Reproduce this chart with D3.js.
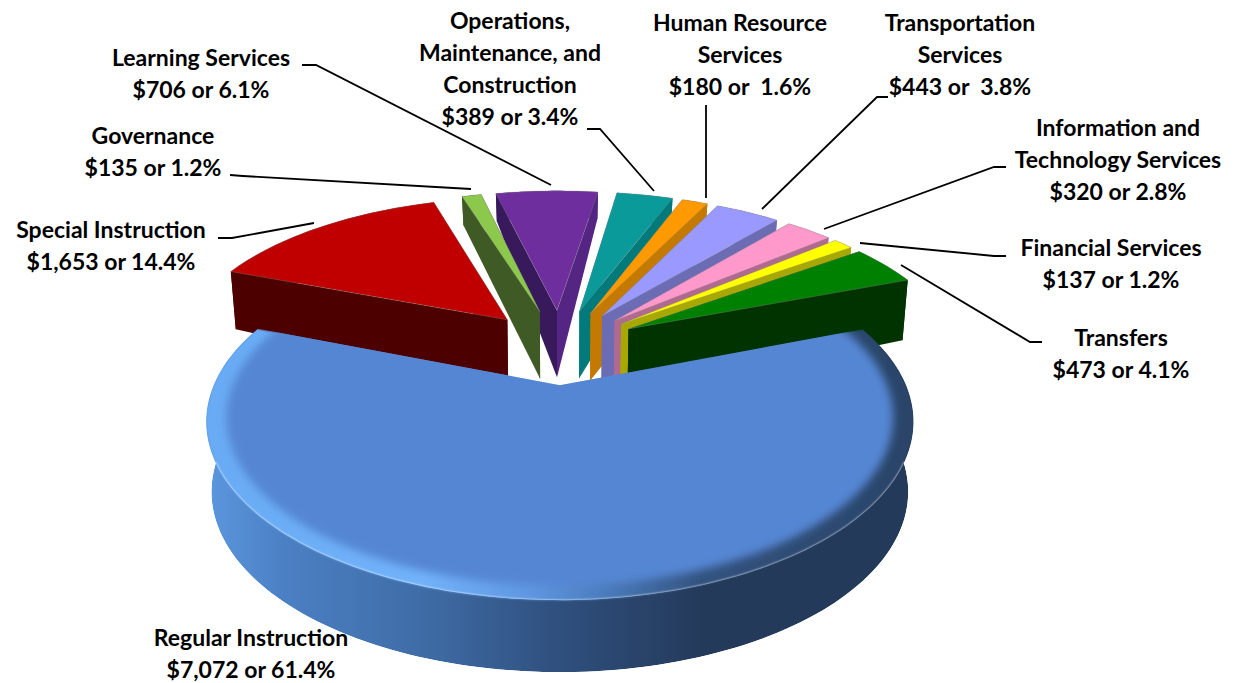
<!DOCTYPE html>
<html>
<head>
<meta charset="utf-8">
<script src="https://cdnjs.cloudflare.com/ajax/libs/d3/7.8.5/d3.min.js"></script>
<style>
html,body{margin:0;padding:0;background:#fff;overflow:hidden}
svg{display:block}
text{font-family:Lato,sans-serif;font-weight:700;font-size:23px;fill:#000;white-space:pre}
</style>
</head>
<body>
<svg id="chart" width="1240" height="683"></svg>
<script>
// Budget by function, in thousands of dollars
const categories = ["Regular Instruction","Special Instruction","Governance","Learning Services",
  "Operations, Maintenance, and Construction","Human Resource Services","Transportation Services",
  "Information and Technology Services","Financial Services","Transfers"];
const amounts = [7072,1653,135,706,389,180,443,320,137,473];
const amountLabels = ["$7,072 or 61.4%","$1,653 or 14.4%","$135 or 1.2%","$706 or 6.1%","$389 or 3.4%",
  "$180 or  1.6%","$443 or  3.8%","$320 or 2.8%","$137 or 1.2%","$473 or 4.1%"];
const faceColors = ["#5586d3","#c00000","#8cc84b","#6f2e9e","#0a9a9a","#ff9900","#9999ff","#ff99cc","#ffff00","#008000"];
const startWallColors = ["#2f4f7c","#4d0000","#3f5a24","#37195c","#007a7a","#c47a00","#6c6cb4","#b06a90","#a8a800","#003300"];
const endWallColors = ["#2f4f7c","#4d0000","#3f5a24","#542582","#007a7a","#c47a00","#6c6cb4","#b06a90","#a8a800","#003300"];

// Label text blocks: category lines, centre x, first line centre y
const labelLayout = [
  {lines:["Regular Instruction"], x:251, y:637},
  {lines:["Special Instruction"], x:111, y:229},
  {lines:["Governance"], x:153, y:135},
  {lines:["Learning Services"], x:201, y:57},
  {lines:["Operations,","Maintenance, and","Construction"], x:510, y:20},
  {lines:["Human Resource","Services"], x:740, y:22},
  {lines:["Transportation","Services"], x:960, y:22},
  {lines:["Information and","Technology Services"], x:1118, y:127},
  {lines:["Financial Services"], x:1111, y:247},
  {lines:["Transfers"], x:1121, y:337}
];
const leaders = [
  null,
  [[218,238],[232,238],[314,223]],
  [[230,175],[243,176],[471,189]],
  [[302,65],[316,65],[551,185]],
  [[587,129],[600,129],[654,191]],
  [[706,105],[706,198]],
  [[888,97],[877,97],[762,209]],
  [[1006,167],[994,167],[824,229]],
  [[1006,256],[994,256],[860,243]],
  [[1042,342],[1030,342],[901,265]]
];

// Plane-to-screen projection of the tilted pie
const CX = 560, CY = 346, SX = 330, SY = 155.4, K = 0.195, EXPLODE = 0.24;
const wallDrop = d3.scaleLinear().domain([-1.25,-0.5,-0.2,0.4,1.25]).range([26,59,68,70,72]);

function topPoint(u, v){
  const w = 1 - K*v;
  return [CX + SX*u/w, CY + SY*v/w];
}
function bottomPoint(u, v){
  const p = topPoint(u, v);
  return [CX + (p[0]-CX)*0.985, p[1] + wallDrop(v)];
}

const pie = d3.pie().sort(null)
  .startAngle(69.5*Math.PI/180)
  .endAngle((69.5+360)*Math.PI/180);
const arcs = pie(amounts);

const line = d3.line();
const closed = pts => line(pts) + "Z";
const svg = d3.select("#chart");
const defs = svg.append("defs");

const slices = arcs.map((a,i) => {
  const mid = (a.startAngle + a.endAngle)/2;
  const ox = EXPLODE*Math.sin(mid), oy = -EXPLODE*Math.cos(mid);
  const n = Math.max(8, Math.ceil((a.endAngle-a.startAngle)*40));
  const angles = d3.range(n+1).map(j => a.startAngle + (a.endAngle-a.startAngle)*j/n);
  const rim = (r=1) => angles.map(t => ({u:ox + r*Math.sin(t), v:oy - r*Math.cos(t)}));
  const apex = {u:ox, v:oy};
  return {i, mid, ox, oy, apex, rim, depth:oy};
});

// Large slice gradients: wall shade and bevel shade run left to right
function hGradient(id, stops){
  const g = defs.append("linearGradient").attr("id",id).attr("gradientUnits","userSpaceOnUse")
    .attr("x1",213).attr("x2",911).attr("y1",0).attr("y2",0);
  stops.forEach(s => g.append("stop").attr("offset",s[0]).attr("stop-color",s[1]));
}
hGradient("wallShade",[[0,"#5b95dc"],[0.1,"#4b80c4"],[0.3,"#3f6ca6"],[0.5,"#2f4f7d"],[0.7,"#243a5b"],[1,"#243a5b"]]);
hGradient("bevelShade",[[0,"#69abf4"],[0.3,"#72b2fa"],[0.45,"#6098e2"],[0.55,"#4d7fc2"],[0.7,"#33537f"],[1,"#2a4468"]]);
defs.append("filter").attr("id","softEdge").attr("x","-10%").attr("y","-10%").attr("width","120%").attr("height","120%")
  .append("feGaussianBlur").attr("stdDeviation",4);
defs.append("filter").attr("id","softRim").attr("x","-10%").attr("y","-10%").attr("width","120%").attr("height","120%")
  .append("feGaussianBlur").attr("stdDeviation",1.2);

const drawOrder = slices.slice().sort((a,b) => a.depth - b.depth);
const pieG = svg.append("g");

drawOrder.forEach(s => {
  const g = pieG.append("g");
  const i = s.i;
  const rim = s.rim();
  const topRim = rim.map(p => topPoint(p.u,p.v));
  const botRim = rim.map(p => bottomPoint(p.u,p.v));
  const topApex = topPoint(s.apex.u,s.apex.v), botApex = bottomPoint(s.apex.u,s.apex.v);
  const faceOutline = [topApex, ...topRim];
  const wallOutline = [...topRim, ...botRim.slice().reverse()];

  if (i === 0){
    // Large slice: bevelled rim between face and wall
    const clipId = "sliceClip";
    const cp = defs.append("clipPath").attr("id",clipId);
    cp.append("path").attr("d",closed(faceOutline));
    cp.append("path").attr("d",closed(wallOutline));
    const inner = g.append("g").attr("clip-path",`url(#${clipId})`);
    inner.append("path").attr("d",closed(wallOutline)).attr("fill","url(#wallShade)");
    inner.append("path").attr("d",closed(faceOutline)).attr("fill","url(#bevelShade)").attr("filter","url(#softRim)");
    const full = d3.range(0,121).map(j => {
      const t = j/120*2*Math.PI;
      return topPoint(s.ox + 0.945*Math.sin(t), s.oy - 0.945*Math.cos(t));
    });
    inner.append("path").attr("d",closed(full)).attr("fill",faceColors[0]).attr("filter","url(#softEdge)");
    return;
  }

  g.append("path").attr("d",closed(wallOutline)).attr("fill",startWallColors[i]);
  const startWall = [topApex, botApex, botRim[0], topRim[0]];
  const endWall = [topApex, topRim[topRim.length-1], botRim[botRim.length-1], botApex];
  [[startWall,startWallColors[i]],[endWall,endWallColors[i]]]
    .sort((a,b) => d3.polygonArea(a[0]) - d3.polygonArea(b[0]))
    .forEach(w => g.append("path").attr("d",closed(w[0])).attr("fill",w[1]));
  g.append("path").attr("d",closed(faceOutline)).attr("fill",faceColors[i])
    .attr("stroke","#8a8a8a").attr("stroke-opacity",0.35).attr("stroke-width",1);
});

// Leader lines
leaders.forEach(pts => {
  if (pts) svg.append("path").attr("d",line(pts)).attr("fill","none").attr("stroke","#000").attr("stroke-width",1.8);
});

// Labels
const LINE = 32;
labelLayout.forEach((lab,i) => {
  const all = [...lab.lines, amountLabels[i]];
  all.forEach((t,j) => {
    svg.append("text").attr("x",lab.x).attr("y",lab.y + j*LINE)
      .attr("text-anchor","middle").attr("dominant-baseline","central").text(t);
  });
});
</script>
</body>
</html>
